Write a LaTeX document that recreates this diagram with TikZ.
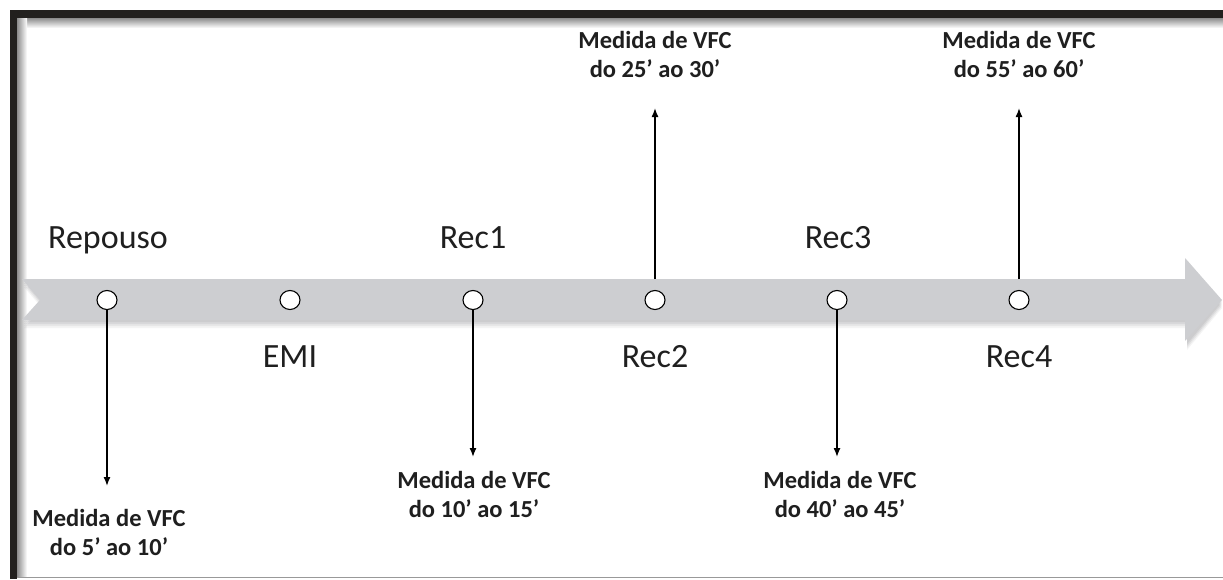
\documentclass[tikz,border=0pt]{standalone}
\usepackage{fontspec}
\setmainfont{Carlito}
\usetikzlibrary{arrows.meta,shapes.geometric}
\definecolor{band}{RGB}{205,206,209}
\definecolor{bandshadow}{RGB}{120,120,124}
\definecolor{framecol}{RGB}{34,32,30}
\tikzset{
  phase/.style={font=\fontsize{34}{38}\selectfont, inner sep=0pt, anchor=base, text=black!88},
  measure/.style={font=\bfseries\fontsize{24.5}{29}\selectfont, align=center, inner sep=0pt, text=black!88},
  dot/.style={draw=black, line width=1.1pt, fill=white, ellipse, minimum width=20pt, minimum height=19pt, inner sep=0pt},
  link/.style={line width=1.4pt, -{Latex[length=9pt,width=7pt]}},
}
\begin{document}
\begin{tikzpicture}[x=1pt,y=-1pt]
\useasboundingbox (0,0) rectangle (1223,579);
% frame inner shadow
\shade[top color=black!45, bottom color=white] (17,18) rectangle (1223,28);
\shade[left color=black!45, right color=white] (17,18) rectangle (27,577);
\fill[white] (27,28) rectangle (1223,576);
% frame
\fill[framecol] (10,10) rectangle (1223,18);
\fill[framecol] (10,10) rectangle (17,579);
\draw[black!40, line width=1pt] (17,577.5) -- (1223,577.5);
% arrow shadow
\foreach \o/\op in {2/0.12,4/0.12,6/0.10,8/0.08}{
  \fill[bandshadow, opacity=\op] (24,279+\o) -- (1187,279+\o) -- (1187,258+\o) -- (1222,300+\o) -- (1187,342+\o) -- (1187,320+\o) -- (24,320+\o) -- (42,300+\o) -- cycle;
}
% arrow band
\fill[band] (22,279) -- (1185,279) -- (1185,258) -- (1222,300) -- (1185,341) -- (1185,320) -- (22,320) -- (40,300) -- cycle;
% dots
\node[dot] (d1) at (107,300) {};
\node[dot] (d2) at (290,300) {};
\node[dot] (d3) at (473,300) {};
\node[dot] (d4) at (655,300) {};
\node[dot] (d5) at (837,300) {};
\node[dot] (d6) at (1019,300) {};
% phase labels
\node[phase] (l1) at (108,248) {Repouso};
\node[phase] (l2) at (290,367) {EMI};
\node[phase] (l3) at (473,248) {Rec1};
\node[phase] (l4) at (655,367) {Rec2};
\node[phase] (l5) at (838,248) {Rec3};
\node[phase] (l6) at (1019,367) {Rec4};
% measurement labels
\node[measure, anchor=north] (m1) at (109,509) {Medida de VFC\\do 5’ ao 10’};
\node[measure, anchor=north] (m3) at (474,471) {Medida de VFC\\do 10’ ao 15’};
\node[measure, anchor=north] (m5) at (840,471) {Medida de VFC\\do 40’ ao 45’};
\node[measure, anchor=north] (m4) at (655,31) {Medida de VFC\\do 25’ ao 30’};
\node[measure, anchor=north] (m6) at (1019,31) {Medida de VFC\\do 55’ ao 60’};
% connectors
\coordinate (t1) at (107,486);
\coordinate (t3) at (473,457);
\coordinate (t5) at (837,457);
\coordinate (t4) at (655,108);
\coordinate (t6) at (1019,108);
\draw[link] (d1.south) -- (t1);
\draw[link] (d3.south) -- (t3);
\draw[link] (d5.south) -- (t5);
\draw[link] (655,279) -- (t4);
\draw[link] (1019,279) -- (t6);
\end{tikzpicture}
\end{document}
